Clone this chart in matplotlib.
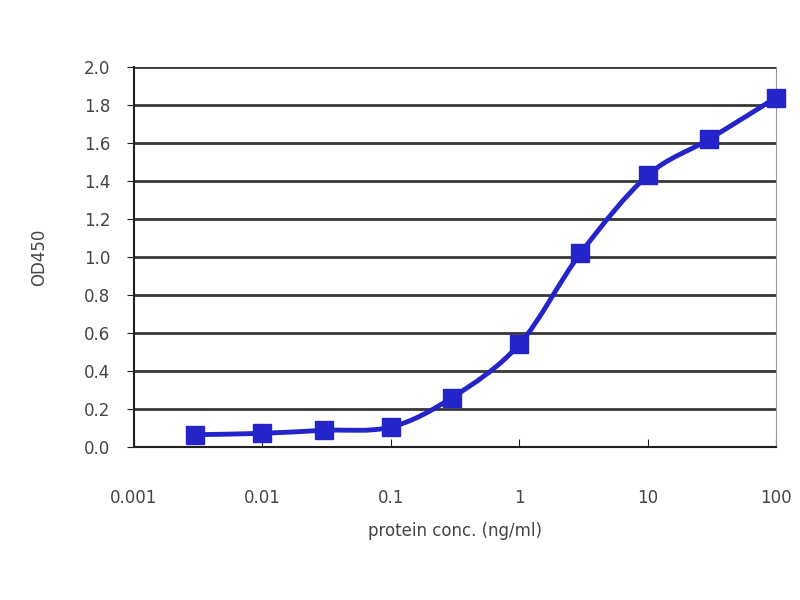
import numpy as np
import matplotlib.pyplot as plt
from matplotlib.path import Path
from matplotlib.patches import PathPatch

# data
conc = [0.003, 0.01, 0.03, 0.1, 0.3, 1, 3, 10, 30, 100]
od450 = [0.065, 0.072, 0.088, 0.105, 0.26, 0.54, 1.02, 1.43, 1.62, 1.84]
yticks = [0.0, 0.2, 0.4, 0.6, 0.8, 1.0, 1.2, 1.4, 1.6, 1.8, 2.0]
xticks = [0.001, 0.01, 0.1, 1, 10, 100]
xticklabels = ['0.001', '0.01', '0.1', '1', '10', '100']

line_color = '#2424c8'
text_color = '#444444'

fig = plt.figure(figsize=(8, 6), dpi=100)
ax = fig.add_axes([0.1675, 0.255, 0.8025, 0.633])

# smoothed line (Excel-like), bezier built in log-x space
lx = np.log10(conc)
yy = np.array(od450)
n = len(lx)
verts = [(conc[0], yy[0])]
codes = [Path.MOVETO]
for i in range(n - 1):
    p0 = np.array([lx[max(i - 1, 0)], yy[max(i - 1, 0)]])
    p1 = np.array([lx[i], yy[i]])
    p2 = np.array([lx[i + 1], yy[i + 1]])
    p3 = np.array([lx[min(i + 2, n - 1)], yy[min(i + 2, n - 1)]])
    c1 = p1 + (p2 - p0) / 6
    c2 = p2 - (p3 - p1) / 6
    for c in (c1, c2, p2):
        verts.append((10 ** c[0], c[1]))
        codes.append(Path.CURVE4)
ax.add_patch(PathPatch(Path(verts, codes), facecolor='none',
                       edgecolor=line_color, lw=3.5, zorder=3))
ax.plot(conc, od450, linestyle='none', marker='s', markersize=13,
        color=line_color, zorder=4, clip_on=False)

ax.set_xscale('log')
ax.set_xlim(0.001, 100)
ax.set_ylim(0, 2.0)
ax.set_yticks(yticks)
ax.set_yticklabels(['%.1f' % v for v in yticks])
ax.set_xticks(xticks)
ax.set_xticklabels(xticklabels)
ax.xaxis.set_minor_locator(plt.NullLocator())

ax.grid(axis='y', color='#383838', lw=2)
ax.set_axisbelow(True)
for s in ('left', 'bottom'):
    ax.spines[s].set_color('#202020')
    ax.spines[s].set_linewidth(1.5)
ax.spines['top'].set_visible(False)
ax.spines['right'].set_color('#999999')

ax.tick_params(axis='y', direction='out', length=5, colors='#202020',
               labelcolor=text_color, labelsize=12, pad=12)
ax.tick_params(axis='x', direction='in', length=6, colors='#202020',
               labelcolor=text_color, labelsize=12, pad=30)

ax.set_xlabel('protein conc. (ng/ml)', color=text_color, fontsize=12, labelpad=11)
ax.set_ylabel('OD450', color=text_color, fontsize=12, labelpad=26)

fig.savefig('out.png', dpi=100, facecolor='white')
